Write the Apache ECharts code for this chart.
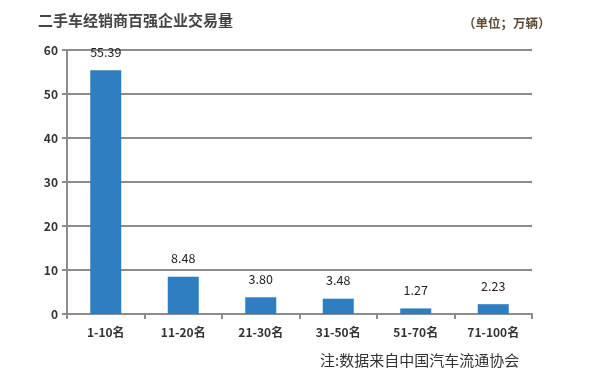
<!DOCTYPE html>
<html><head><meta charset="utf-8">
<script src="https://cdn.jsdelivr.net/npm/echarts@6/dist/echarts.min.js"></script>
<style>html,body{margin:0;padding:0;background:#fff}#c{width:600px;height:381px}</style>
</head><body><div id="c"></div>
<script>
const categories = ['1-10名','11-20名','21-30名','31-50名','51-70名','71-100名'];
const values = [55.39, 8.48, 3.80, 3.48, 1.27, 2.23];
const valueLabels = ['55.39','8.48','3.80','3.48','1.27','2.23'];
const yTicks = [0,10,20,30,40,50,60];
const titleText = '二手车经销商百强企业交易量';
const unitText = '（单位；万辆）';
const noteText = '注:数据来自中国汽车流通协会';

const font = '"Noto Sans CJK SC", "Noto Sans", sans-serif';
const chart = echarts.init(document.getElementById('c'));
chart.setOption({
  animation: false,
  backgroundColor: '#fff',
  title: [
    {text: titleText, left: 33, top: 8, textStyle: {fontFamily: font, fontSize: 15, fontWeight: 'bold', color: '#444'}},
    {text: unitText, left: 458, top: 12, textStyle: {fontFamily: font, fontSize: 12.5, fontWeight: 'bold', color: '#5e4b36'}},
    {text: noteText, left: 315, top: 348, textStyle: {fontFamily: font, fontSize: 15, fontWeight: 'normal', color: '#333'}}
  ],
  grid: {left: 67, right: 68, top: 50, bottom: 67, containLabel: false},
  xAxis: {
    type: 'category', data: categories,
    axisLine: {lineStyle: {color: '#8c8c8c', width: 2}},
    axisTick: {show: true, alignWithLabel: false, length: 5, lineStyle: {color: '#8c8c8c', width: 2}},
    axisLabel: {fontFamily: font, fontSize: 12, fontWeight: 'bold', color: '#333', margin: 12}
  },
  yAxis: {
    type: 'value', min: 0, max: 60, interval: 10,
    axisLine: {show: true, lineStyle: {color: '#8c8c8c', width: 2}},
    axisTick: {show: true, length: 5, lineStyle: {color: '#8c8c8c', width: 2}},
    splitLine: {show: true, lineStyle: {color: '#8c8c8c', width: 2}},
    axisLabel: {fontFamily: font, fontSize: 12, fontWeight: 'bold', color: '#333', margin: 9,
      formatter: v => yTicks.includes(v) ? String(v) : ''}
  },
  series: [{
    type: 'bar', data: values, barWidth: 31,
    itemStyle: {color: '#2f7ec1'},
    label: {show: true, position: 'top', distance: 12, fontFamily: font, fontSize: 12.5, color: '#222',
      formatter: p => valueLabels[p.dataIndex]}
  }]
});
</script></body></html>
